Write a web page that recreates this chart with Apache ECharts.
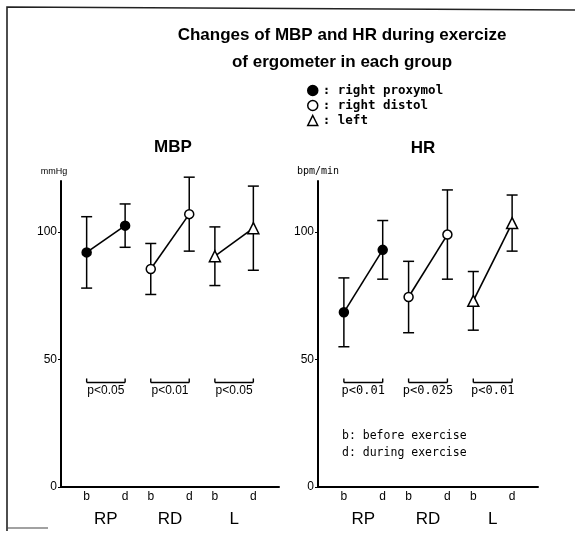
<!DOCTYPE html>
<html>
<head>
<meta charset="utf-8">
<script src="https://cdn.jsdelivr.net/npm/echarts@6/dist/echarts.min.js"></script>
<style>
  html, body { margin: 0; background: #fff; }
  #chart { width: 575px; height: 534px; }
</style>
</head>
<body>
<div id="chart"></div>
<script>
// groups and phases
const groups = ['RP', 'RD', 'L'];
const phases = ['b', 'd'];
const groupNames = ['right proxymol', 'right distol', 'left'];

// values in order RP b, RP d, RD b, RD d, L b, L d
const mbpMean = [92, 102.5, 85.5, 107, 90.5, 101.5];
const mbpSD = [14, 8.5, 10, 14.5, 11.5, 16.5];
const hrMean = [68.5, 93, 74.5, 99, 73, 103.5];
const hrSD = [13.5, 11.5, 14, 17.5, 11.5, 11];

// significance of b vs d for each group
const mbpP = ['p<0.05', 'p<0.01', 'p<0.05'];
const hrP = ['p<0.01', 'p<0.025', 'p<0.01'];

const yTicks = [0, 50, 100];

// layout helpers (not data)
const slotX = (g, p) => 2 + 5 * g + 3 * p; // x axis runs 0..17
const BRACKET_Y = 41;
const symbols = ['circle', 'circle', 'triangle'];
const fills = ['#000', '#fff', '#fff'];
const mono = 'DejaVu Sans Mono';
const sans = 'Liberation Sans';

const slotLabels = {};
const slotValues = [];
groups.forEach((g, gi) => phases.forEach((p, pi) => {
  slotLabels[slotX(gi, pi)] = p;
  slotValues.push(slotX(gi, pi));
}));
const groupCenters = groups.map((g, gi) => slotX(gi, 0) + 1.5);

function lineSeries(panel, mean) {
  return groups.map((g, gi) => ({
    type: 'line',
    name: groupNames[gi],
    xAxisIndex: panel * 2,
    yAxisIndex: panel,
    data: phases.map((p, pi) => [slotX(gi, pi), mean[gi * 2 + pi]]),
    symbol: symbols[gi],
    symbolSize: gi === 2 ? 11 : 9,
    itemStyle: { color: fills[gi], borderColor: '#000', borderWidth: 1.5 },
    lineStyle: { color: '#000', width: 1.6 },
    silent: true,
    z: 3
  }));
}

function errorSeries(panel, mean, sd) {
  const data = [];
  groups.forEach((g, gi) => phases.forEach((p, pi) => {
    const i = gi * 2 + pi;
    data.push([slotX(gi, pi), mean[i] - sd[i], mean[i] + sd[i]]);
  }));
  return {
    type: 'custom',
    xAxisIndex: panel * 2,
    yAxisIndex: panel,
    silent: true,
    z: 1,
    encode: { x: 0, y: [1, 2] },
    data,
    renderItem: (params, api) => {
      const x = api.value(0);
      const lo = api.coord([x, api.value(1)]);
      const hi = api.coord([x, api.value(2)]);
      const w = 5.5;
      const style = { stroke: '#000', lineWidth: 1.5 };
      return {
        type: 'group',
        children: [
          { type: 'line', shape: { x1: lo[0], y1: lo[1], x2: hi[0], y2: hi[1] }, style },
          { type: 'line', shape: { x1: lo[0] - w, y1: lo[1], x2: lo[0] + w, y2: lo[1] }, style },
          { type: 'line', shape: { x1: hi[0] - w, y1: hi[1], x2: hi[0] + w, y2: hi[1] }, style }
        ]
      };
    }
  };
}

function bracketSeries(panel, labels, font) {
  return {
    type: 'custom',
    xAxisIndex: panel * 2,
    yAxisIndex: panel,
    silent: true,
    encode: { x: [0, 1], y: 2 },
    data: groups.map((g, gi) => [slotX(gi, 0), slotX(gi, 1), BRACKET_Y, gi]),
    renderItem: (params, api) => {
      const a = api.coord([api.value(0), api.value(2)]);
      const b = api.coord([api.value(1), api.value(2)]);
      const style = { stroke: '#000', lineWidth: 1.4 };
      return {
        type: 'group',
        children: [
          { type: 'line', shape: { x1: a[0], y1: a[1], x2: b[0], y2: b[1] }, style },
          { type: 'line', shape: { x1: a[0], y1: a[1], x2: a[0], y2: a[1] - 4 }, style },
          { type: 'line', shape: { x1: b[0], y1: b[1], x2: b[0], y2: b[1] - 4 }, style },
          {
            type: 'text',
            x: (a[0] + b[0]) / 2,
            y: a[1] + 2,
            style: {
              text: labels[api.value(3)],
              align: 'center',
              verticalAlign: 'top',
              fontFamily: font,
              fontSize: 12,
              fill: '#000'
            }
          }
        ]
      };
    }
  };
}

function xAxes(grid) {
  return [
    {
      gridIndex: grid,
      type: 'value',
      min: 0,
      max: 17,
      axisLine: { show: true, lineStyle: { color: '#000', width: 2 } },
      axisTick: { show: false },
      splitLine: { show: false },
      axisLabel: {
        customValues: slotValues,
        formatter: v => slotLabels[v] || '',
        color: '#000',
        fontFamily: sans,
        fontSize: 12,
        margin: 4
      }
    },
    {
      gridIndex: grid,
      type: 'value',
      min: 0,
      max: 17,
      position: 'bottom',
      offset: 19,
      axisLine: { show: false },
      axisTick: { show: false },
      splitLine: { show: false },
      axisLabel: {
        customValues: groupCenters,
        formatter: v => groups[groupCenters.indexOf(v)] || '',
        color: '#000',
        fontFamily: sans,
        fontSize: 17,
        margin: 5
      }
    }
  ];
}

function yAxis(grid, name, nameStyle) {
  return {
    gridIndex: grid,
    type: 'value',
    min: 0,
    max: 120,
    interval: 50,
    name,
    nameGap: 5,
    nameTextStyle: nameStyle,
    axisLine: { show: true, lineStyle: { color: '#000', width: 2 } },
    axisTick: { show: true, length: 3, customValues: yTicks, lineStyle: { color: '#000', width: 1 } },
    axisLabel: { customValues: yTicks, color: '#000', fontFamily: sans, fontSize: 12, margin: 4 },
    splitLine: { show: false }
  };
}

const chart = echarts.init(document.getElementById('chart'));

const titleStyle = { align: 'center', verticalAlign: 'middle', fontFamily: sans, fontWeight: 'bold', fontSize: 17, fill: '#000' };

const option = {
  animation: false,
  backgroundColor: '#fff',
  grid: [
    { left: 61, right: 296, top: 181, bottom: 47 },
    { left: 318, right: 37, top: 181, bottom: 47 }
  ],
  xAxis: [...xAxes(0), ...xAxes(1)],
  yAxis: [
    yAxis(0, 'mmHg', { color: '#000', fontFamily: sans, fontSize: 9, padding: [0, 14, 0, 0] }),
    yAxis(1, 'bpm/min', { color: '#000', fontFamily: mono, fontSize: 10 })
  ],
  legend: {
    orient: 'vertical',
    left: 302,
    top: 79,
    itemWidth: 10,
    itemHeight: 10,
    itemGap: 2,
    selectedMode: false,
    data: groupNames.map((n, i) => ({
      name: n,
      icon: symbols[i],
      itemStyle: { color: fills[i], borderColor: '#000', borderWidth: 1.5 }
    })),
    formatter: n => ': ' + n,
    textStyle: { fontFamily: mono, fontSize: 12.5, fontWeight: 'bold', color: '#000' }
  },
  graphic: [
    // frame round the figure
    { type: 'polyline', shape: { points: [[7, 531], [7, 7], [575, 10]] }, style: { stroke: '#222', lineWidth: 1.6, fill: null } },
    { type: 'line', shape: { x1: 7, y1: 528, x2: 48, y2: 528 }, style: { stroke: '#444', lineWidth: 1.2 } },
    { type: 'text', x: 342, y: 35, style: { ...titleStyle, text: 'Changes of MBP and HR during exercize' } },
    { type: 'text', x: 342, y: 62, style: { ...titleStyle, text: 'of ergometer in each group' } },
    { type: 'text', x: 173, y: 147, style: { ...titleStyle, text: 'MBP' } },
    { type: 'text', x: 423, y: 148, style: { ...titleStyle, text: 'HR' } },
    {
      type: 'text', x: 342, y: 436,
      style: { text: 'b: before exercise', align: 'left', verticalAlign: 'middle', fontFamily: mono, fontSize: 11.5, fill: '#000' }
    },
    {
      type: 'text', x: 342, y: 453,
      style: { text: 'd: during exercise', align: 'left', verticalAlign: 'middle', fontFamily: mono, fontSize: 11.5, fill: '#000' }
    }
  ],
  series: [
    errorSeries(0, mbpMean, mbpSD),
    ...lineSeries(0, mbpMean),
    bracketSeries(0, mbpP, sans),
    errorSeries(1, hrMean, hrSD),
    ...lineSeries(1, hrMean),
    bracketSeries(1, hrP, mono)
  ]
};

chart.setOption(option);
</script>
</body>
</html>
